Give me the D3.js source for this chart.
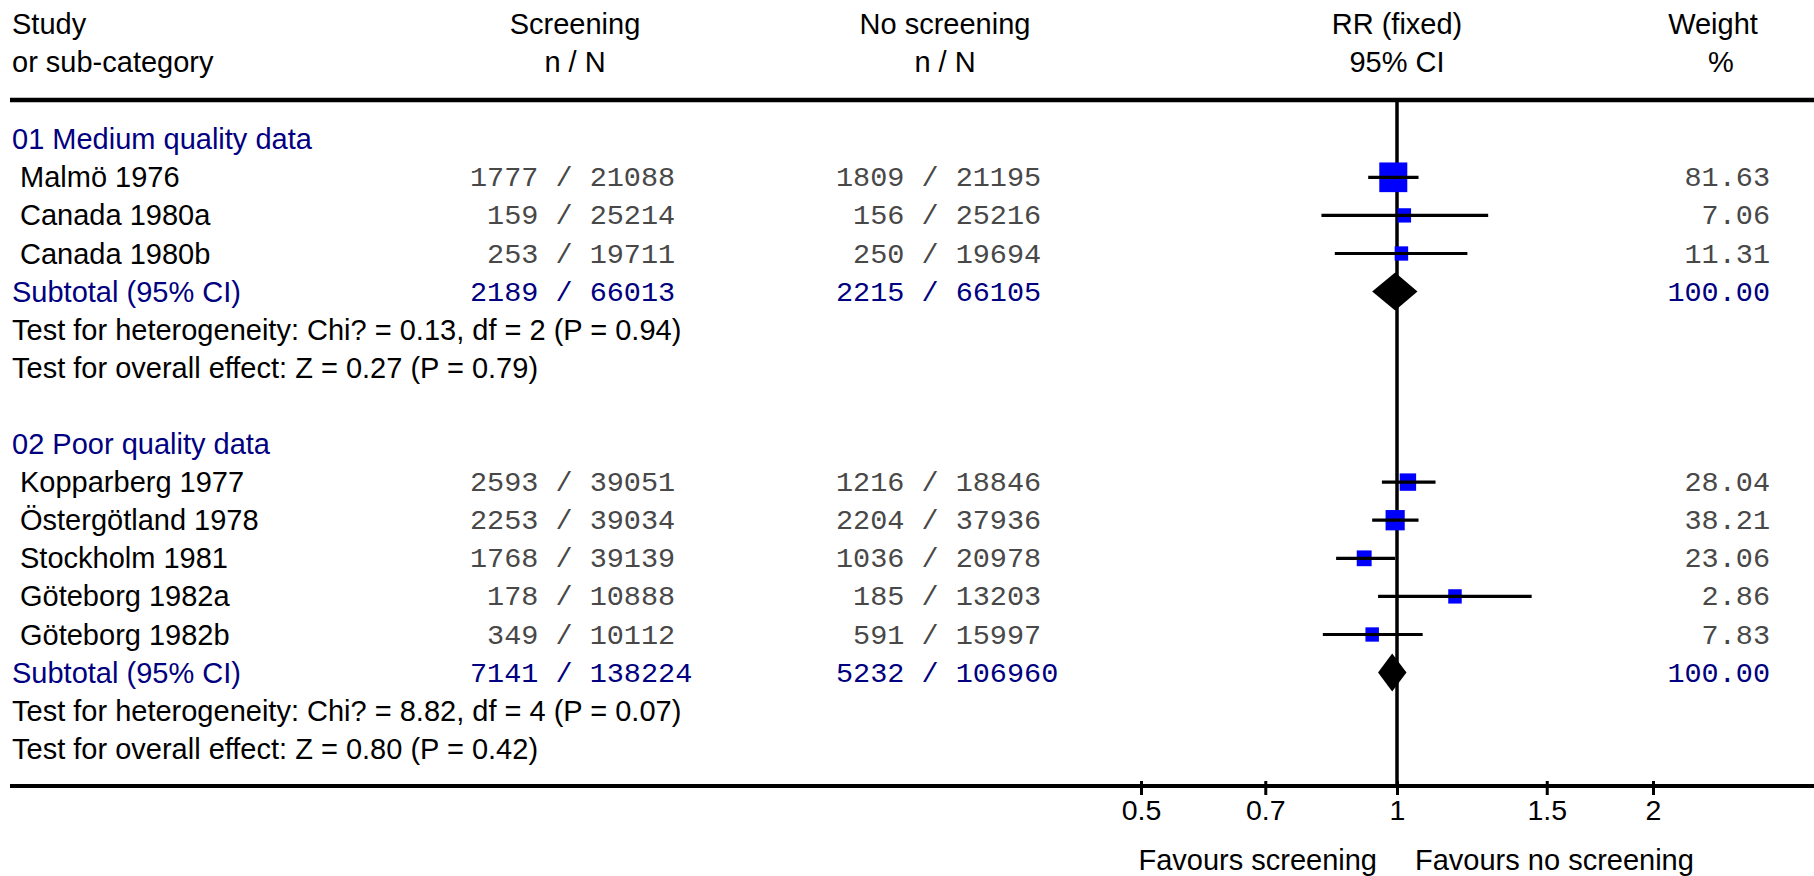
<!DOCTYPE html>
<html><head><meta charset="utf-8">
<script src="https://cdn.jsdelivr.net/npm/d3@7"></script>
<style>
html,body{margin:0;padding:0;background:#fff;}
svg{display:block;}
.sans{font-family:"Liberation Sans",Arial,sans-serif;font-size:29px;}
.mono{font-family:"Liberation Mono","Courier New",monospace;font-size:28.5px;}
</style></head><body>
<svg id="chart" width="1814" height="876"></svg>
<script>
// ---------------- data ----------------
const headerLeft = ["Study", "or sub-category"];
const headerScr = ["Screening", "n / N"];
const headerNo = ["No screening", "n / N"];
const headerRR = ["RR (fixed)", "95% CI"];
const headerW = ["Weight", "%"];

const groupLabels = ["01 Medium quality data", "02 Poor quality data"];
const studyNames = ["Malmö 1976", "Canada 1980a", "Canada 1980b",
  "Kopparberg 1977", "Östergötland 1978", "Stockholm 1981", "Göteborg 1982a", "Göteborg 1982b"];
const studyGroup = [0, 0, 0, 1, 1, 1, 1, 1];
const scrEvents = [1777, 159, 253, 2593, 2253, 1768, 178, 349];
const scrTotal = [21088, 25214, 19711, 39051, 39034, 39139, 10888, 10112];
const noEvents = [1809, 156, 250, 1216, 2204, 1036, 185, 591];
const noTotal = [21195, 25216, 19694, 18846, 37936, 20978, 13203, 15997];
const rr = [0.99, 1.02, 1.012, 1.03, 0.995, 0.915, 1.17, 0.935];
const rrLow = [0.925, 0.815, 0.845, 0.96, 0.935, 0.848, 0.95, 0.818];
const rrHigh = [1.06, 1.28, 1.21, 1.11, 1.06, 0.995, 1.44, 1.072];
const weights = ["81.63", "7.06", "11.31", "28.04", "38.21", "23.06", "2.86", "7.83"];

const subLabel = "Subtotal (95% CI)";
const subScrEvents = [2189, 7141];
const subScrTotal = [66013, 138224];
const subNoEvents = [2215, 5232];
const subNoTotal = [66105, 106960];
const subRR = [0.995, 0.987];
const subLow = [0.935, 0.95];
const subHigh = [1.057, 1.026];
const subWeight = ["100.00", "100.00"];
const hetText = ["Test for heterogeneity: Chi? = 0.13, df = 2 (P = 0.94)",
                 "Test for heterogeneity: Chi? = 8.82, df = 4 (P = 0.07)"];
const effectText = ["Test for overall effect: Z = 0.27 (P = 0.79)",
                    "Test for overall effect: Z = 0.80 (P = 0.42)"];

const ticks = [0.5, 0.7, 1, 1.5, 2];
const favLeft = "Favours screening";
const favRight = "Favours no screening";

// ---------------- layout ----------------
const NAVY = "#000080", BLUE = "#0000ff", TXT = "#000", MONO = "#484848";
const svg = d3.select("#chart");
svg.append("rect").attr("width", 1814).attr("height", 876).attr("fill", "#fff");

const x = d3.scaleLog().domain([0.5, 2]).range([1141, 1653]);
const y = d3.scaleLinear().domain([0, 16]).range([139.2, 748.8]);
const boxSize = d3.scaleSqrt().domain([0, 81.63]).range([0, 28]);
const topY = 100, botY = 786, ruleX0 = 10;
const adv = 28.5 * 0.6;
const colName = 12, colStudy = 20, slash1 = 564, slash2 = 930, colW = 1770;

// rows
const rows = [];
let r = 0;
groupLabels.forEach((g, gi) => {
  rows.push({type: "group", gi, row: r++});
  studyNames.forEach((s, i) => { if (studyGroup[i] === gi) rows.push({type: "study", i, row: r++}); });
  rows.push({type: "sub", gi, row: r++});
  rows.push({type: "het", gi, row: r++});
  rows.push({type: "eff", gi, row: r++});
  r++;
});

// headers
const hdr = svg.append("g").attr("class", "sans").attr("fill", TXT);
[34, 72].forEach((by, k) => {
  hdr.append("text").attr("x", colName).attr("y", by).text(headerLeft[k]);
  hdr.append("text").attr("x", 575).attr("y", by).attr("text-anchor", "middle").text(headerScr[k]);
  hdr.append("text").attr("x", 945).attr("y", by).attr("text-anchor", "middle").text(headerNo[k]);
  hdr.append("text").attr("x", x(1)).attr("y", by).attr("text-anchor", "middle").text(headerRR[k]);
  hdr.append("text").attr("x", k === 0 ? 1713 : 1721).attr("y", by).attr("text-anchor", "middle").text(headerW[k]);
});

// rules
svg.append("line").attr("x1", ruleX0).attr("x2", 1814).attr("y1", topY).attr("y2", topY)
  .attr("stroke", "#000").attr("stroke-width", 4.5);
svg.append("line").attr("x1", x(1)).attr("x2", x(1)).attr("y1", topY).attr("y2", botY)
  .attr("stroke", "#000").attr("stroke-width", 3.5);

// n / N helper
function nN(g, slashX, n, N, color, yc) {
  const by = yc + 9;
  g.append("text").attr("class", "mono").attr("fill", color).attr("x", slashX - 1.5 * adv).attr("y", by)
    .attr("text-anchor", "end").text(n);
  g.append("text").attr("class", "mono").attr("fill", color).attr("x", slashX).attr("y", by)
    .attr("text-anchor", "middle").text("/");
  g.append("text").attr("class", "mono").attr("fill", color).attr("x", slashX + 1.5 * adv).attr("y", by)
    .attr("text-anchor", "start").text(N);
}

const body = svg.append("g");
const marks = svg.append("g");
const ciG = svg.append("g");
rows.forEach(d => {
  const yc = y(d.row);
  const by = yc + 10;
  if (d.type === "group") {
    body.append("text").attr("class", "sans").attr("fill", NAVY).attr("x", colName).attr("y", by).text(groupLabels[d.gi]);
  } else if (d.type === "study") {
    const i = d.i;
    body.append("text").attr("class", "sans").attr("fill", TXT).attr("x", colStudy).attr("y", by).text(studyNames[i]);
    nN(body, slash1, scrEvents[i], scrTotal[i], MONO, yc);
    nN(body, slash2, noEvents[i], noTotal[i], MONO, yc);
    body.append("text").attr("class", "mono").attr("fill", MONO).attr("x", colW).attr("y", yc + 9)
      .attr("text-anchor", "end").text(weights[i]);
    const s = Math.max(13.5, boxSize(+weights[i]));
    marks.append("rect").attr("x", x(rr[i]) - s / 2).attr("y", yc - s * 1.06 / 2)
      .attr("width", s).attr("height", s * 1.06).attr("fill", BLUE);
    ciG.append("line").attr("x1", x(rrLow[i])).attr("x2", x(rrHigh[i])).attr("y1", yc).attr("y2", yc)
      .attr("stroke", "#000").attr("stroke-width", 3.2);
  } else if (d.type === "sub") {
    const gi = d.gi;
    body.append("text").attr("class", "sans").attr("fill", NAVY).attr("x", colName).attr("y", by).text(subLabel);
    nN(body, slash1, subScrEvents[gi], subScrTotal[gi], NAVY, yc);
    nN(body, slash2, subNoEvents[gi], subNoTotal[gi], NAVY, yc);
    body.append("text").attr("class", "mono").attr("fill", NAVY).attr("x", colW).attr("y", yc + 9)
      .attr("text-anchor", "end").text(subWeight[gi]);
    const h = 19;
    marks.append("path")
      .attr("d", `M${x(subLow[gi])},${yc} L${x(subRR[gi])},${yc - h} L${x(subHigh[gi])},${yc} L${x(subRR[gi])},${yc + h} Z`)
      .attr("fill", "#000");
  } else if (d.type === "het") {
    body.append("text").attr("class", "sans").attr("fill", TXT).attr("x", colName).attr("y", by).text(hetText[d.gi]);
  } else if (d.type === "eff") {
    body.append("text").attr("class", "sans").attr("fill", TXT).attr("x", colName).attr("y", by).text(effectText[d.gi]);
  }
});

// bottom rule + axis
svg.append("line").attr("x1", ruleX0).attr("x2", 1814).attr("y1", botY).attr("y2", botY)
  .attr("stroke", "#000").attr("stroke-width", 4);
const ax = svg.append("g").attr("transform", `translate(0,${botY})`)
  .call(d3.axisBottom(x).tickValues(ticks).tickFormat(d3.format("")).tickSize(9).tickPadding(5));
ax.select(".domain").remove();
ax.selectAll(".tick line").attr("y1", -5).attr("stroke", "#000").attr("stroke-width", 3);
ax.selectAll(".tick text").attr("font-family", "Liberation Sans, Arial, sans-serif")
  .attr("font-size", 28.5).attr("fill", TXT);

svg.append("text").attr("class", "sans").attr("fill", TXT).attr("x", x(1) - 20).attr("y", 870)
  .attr("text-anchor", "end").text(favLeft);
svg.append("text").attr("class", "sans").attr("fill", TXT).attr("x", x(1) + 18).attr("y", 870)
  .attr("text-anchor", "start").text(favRight);
</script>
</body></html>
